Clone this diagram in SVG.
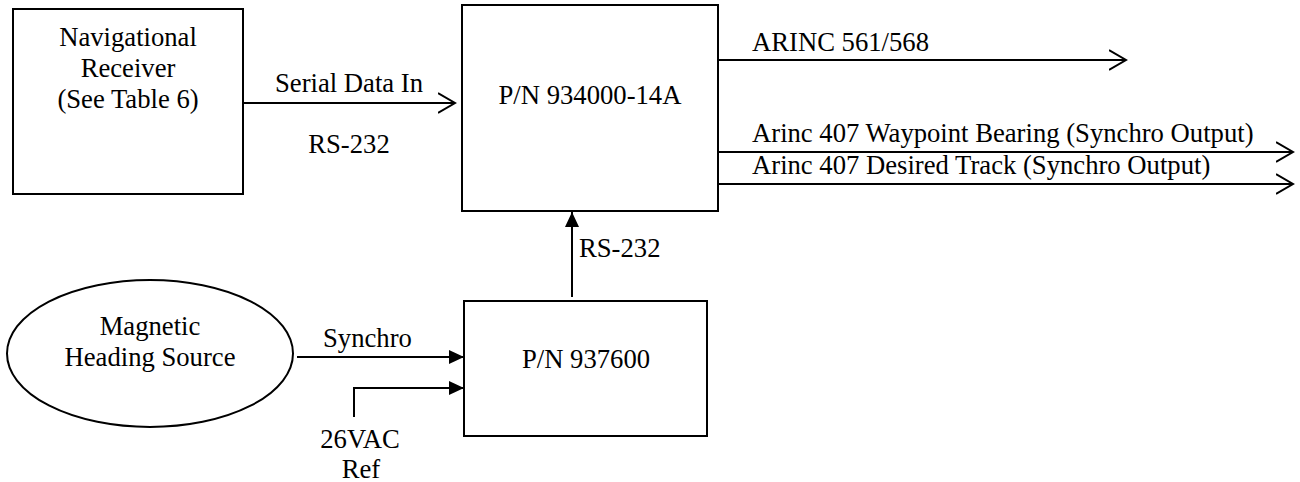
<svg xmlns="http://www.w3.org/2000/svg" width="1300" height="482" viewBox="0 0 1300 482" font-family="'Liberation Serif', 'Times New Roman', 'DejaVu Serif', serif">
<style>
.box{fill:#fff;stroke:#000;stroke-width:2}
.ln{fill:none;stroke:#000;stroke-width:2}
text{font-family:'Liberation Serif','Times New Roman','DejaVu Serif',serif;font-size:26.67px;fill:#000}
.c{text-anchor:middle}
</style>
<defs>
<marker id="open" markerUnits="userSpaceOnUse" markerWidth="20" markerHeight="24" refX="17" refY="10" orient="auto" viewBox="0 0 20 20">
<path d="M0,0 L17,10 L0,20" fill="none" stroke="#000" stroke-width="2"/>
</marker>
<marker id="fill" markerUnits="userSpaceOnUse" markerWidth="16" markerHeight="14" refX="15" refY="7" orient="auto" viewBox="0 0 16 14">
<path d="M0,0 L15,7 L0,14 Z" fill="#000"/>
</marker>
</defs>
<rect width="1300" height="482" fill="#fff"/>
<g id="connectors">
<line class="ln" x1="243" y1="103" x2="455" y2="103" marker-end="url(#open)"/>
<line class="ln" x1="718" y1="60" x2="1126" y2="60" marker-end="url(#open)"/>
<line class="ln" x1="718" y1="152" x2="1293" y2="152" marker-end="url(#open)"/>
<line class="ln" x1="718" y1="184" x2="1293" y2="184" marker-end="url(#open)"/>
<line class="ln" x1="572" y1="297" x2="572" y2="212" marker-end="url(#fill)"/>
<line class="ln" x1="297" y1="357" x2="464" y2="357" marker-end="url(#fill)"/>
<polyline class="ln" points="354,417 354,388 464,388" marker-end="url(#fill)"/>
<text x="275" y="92">Serial Data In</text>
<text x="349" y="153" class="c">RS-232</text>
<text x="752" y="51">ARINC 561/568</text>
<text x="752" y="142">Arinc 407 Waypoint Bearing (Synchro Output)</text>
<text x="752" y="174">Arinc 407 Desired Track (Synchro Output)</text>
<text x="579" y="257">RS-232</text>
<text x="323" y="347">Synchro</text>
<text x="360" y="448" class="c">26VAC</text>
<text x="361" y="478" class="c">Ref</text>
</g>
<g id="nav-receiver">
<rect class="box" x="13" y="9" width="230" height="185"/>
<text x="128" y="46" class="c">Navigational</text>
<text x="128" y="77" class="c">Receiver</text>
<text x="128" y="108" class="c">(See Table 6)</text>
</g>
<g id="pn-934000">
<rect class="box" x="462" y="5" width="256" height="206"/>
<text x="590" y="104" class="c">P/N 934000-14A</text>
</g>
<g id="pn-937600">
<rect class="box" x="464" y="301" width="243" height="135"/>
<text x="586" y="368" class="c">P/N 937600</text>
</g>
<g id="magnetic-heading">
<ellipse class="box" cx="150" cy="353.5" rx="143" ry="73.5"/>
<text x="150" y="335" class="c">Magnetic</text>
<text x="150" y="366" class="c">Heading Source</text>
</g>
</svg>
